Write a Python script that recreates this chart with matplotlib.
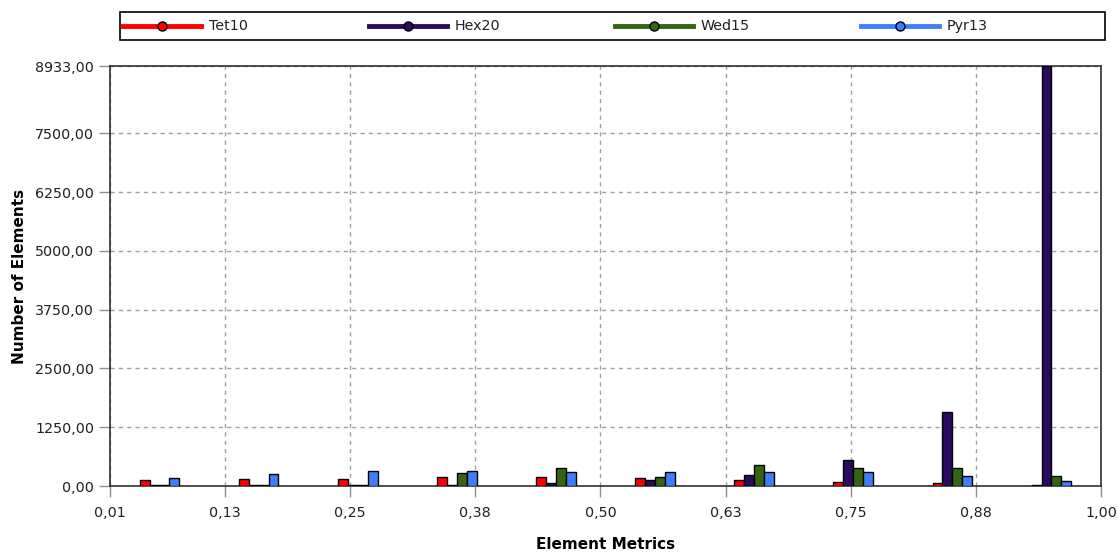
import matplotlib
matplotlib.use("Agg")
import matplotlib.pyplot as plt
from matplotlib.lines import Line2D
from matplotlib.patches import Rectangle

plt.rcParams['font.family'] = ['DejaVu Sans']

series_names = ["Tet10", "Hex20", "Wed15", "Pyr13"]
series_colors = ["#FF0000", "#2B0B5E", "#336611", "#3F7FFF"]
bin_centers = [0.0595, 0.1585, 0.2575, 0.3565, 0.4555, 0.5545, 0.6535, 0.7525, 0.8515, 0.9505]
tet10 = [125, 155, 155, 190, 190, 160, 125, 90, 55, 15]
hex20 = [20, 20, 20, 25, 60, 125, 225, 550, 1570, 8933]
wed15 = [20, 20, 20, 280, 380, 190, 445, 380, 380, 220]
pyr13 = [165, 250, 315, 315, 290, 290, 290, 290, 220, 115]
series_values = [tet10, hex20, wed15, pyr13]

xtick_pos = [0.01, 0.125, 0.25, 0.375, 0.5, 0.625, 0.75, 0.875, 1.0]
xtick_labels = ["0,01", "0,13", "0,25", "0,38", "0,50", "0,63", "0,75", "0,88", "1,00"]
ytick_pos = [0, 1250, 2500, 3750, 5000, 6250, 7500, 8933]
ytick_labels = ["0,00", "1250,00", "2500,00", "3750,00", "5000,00", "6250,00", "7500,00", "8933,00"]

W, H = 1118, 556
fig = plt.figure(figsize=(W/100, H/100), dpi=100)
ax = fig.add_axes([110/W, 1 - 486/H, (1101 - 110)/W, (486 - 66)/H])

bw = 0.0099
for i, (name, vals, col) in enumerate(zip(series_names, series_values, series_colors)):
    off = (i - 1.5) * bw
    ax.bar([c + off for c in bin_centers], vals, width=bw, color=col,
           edgecolor="black", linewidth=1.0, zorder=3)

ax.set_xlim(0.01, 1.0)
ax.set_ylim(0, 8933)
ax.set_xticks(xtick_pos)
ax.set_xticklabels(xtick_labels)
ax.set_yticks(ytick_pos)
ax.set_yticklabels(ytick_labels)
ax.tick_params(axis='both', labelsize=10.3, colors="#202020", length=8, width=1.0,
               color="#909090")
ax.tick_params(axis='x', pad=6.5)
ax.tick_params(axis='y', pad=3.5)
ax.grid(True, linestyle=(0, (3, 3)), color="#A0A0A0", linewidth=1.0, zorder=0)
for s in ax.spines.values():
    s.set_color("#303030")
    s.set_linewidth(1.2)

ax.set_xlabel("Element Metrics", fontsize=11, fontweight="bold", labelpad=12)
ax.set_ylabel("Number of Elements", fontsize=11, fontweight="bold", labelpad=6)

# legend drawn manually in figure pixel coordinates
fig.patches.append(Rectangle((120/W, 1 - 40/H), (1105 - 120)/W, 28/H,
                             transform=fig.transFigure, facecolor="white",
                             edgecolor="black", linewidth=1.2))
ly = 1 - 26/H
for i, (name, col) in enumerate(zip(series_names, series_colors)):
    x0 = 123 + i * 246
    fig.lines.append(Line2D([x0/W, (x0 + 78)/W], [ly, ly], transform=fig.transFigure,
                            color=col, lw=3.5))
    fig.lines.append(Line2D([(x0 + 39)/W], [ly], transform=fig.transFigure,
                            marker="o", markersize=6.5, markerfacecolor=col,
                            markeredgecolor="black", markeredgewidth=1.0, lw=0))
    fig.text((x0 + 86)/W, ly, name, fontsize=10.3, va="center", ha="left", color="#202020")

fig.savefig("out.png", dpi=100)
